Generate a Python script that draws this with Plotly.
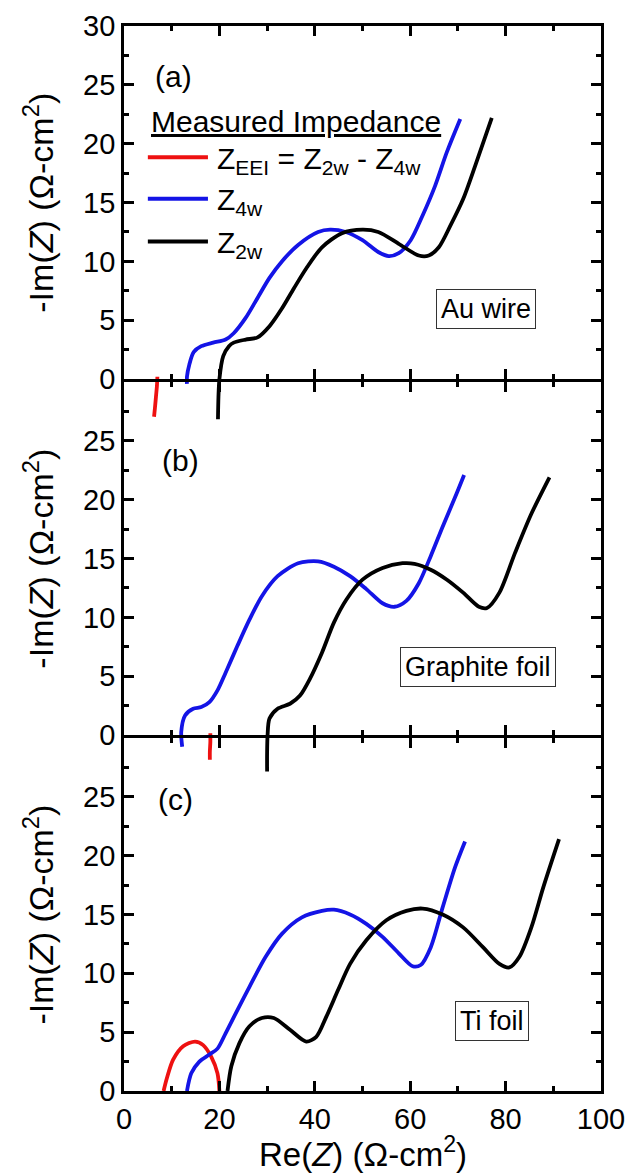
import plotly.graph_objects as go

# ---------------- data ----------------
# Panel (a) Au wire
a_eei_x = [7.0, 6.9, 6.7, 6.5, 6.3]
a_eei_y = [0.2, -0.6, -1.5, -2.4, -3.2]
a_4w_x = [13.2, 13.2, 13.7, 14.6, 16.2, 18.7, 21.3, 23.0, 25.5, 28.0, 30.5, 33.1, 36.5, 40.7,
          43.2, 46.5, 50.0, 53.3, 55.5, 57.6, 60.1, 62.6, 65.2, 67.7, 70.5]
a_4w_y = [-0.4, 0.2, 1.25, 2.3, 2.8, 3.1, 3.36, 3.9, 5.2, 6.9, 8.6, 10.0, 11.4, 12.5,
          12.7, 12.5, 11.8, 10.8, 10.45, 10.7, 11.8, 13.9, 16.4, 19.3, 22.1]
a_2w_x = [19.7, 19.8, 20.0, 20.8, 22.0, 23.0, 25.5, 28.0, 30.5, 33.1, 35.6, 38.2, 41.5, 45.7,
          50.0, 53.3, 57.6, 61.8, 63.9, 66.0, 68.5, 71.1, 73.6, 77.1]
a_2w_y = [-3.4, -1.5, 0.0, 1.95, 2.8, 3.1, 3.36, 3.55, 4.5, 6.0, 7.7, 9.4, 11.2, 12.4,
          12.7, 12.5, 11.5, 10.5, 10.5, 11.2, 13.1, 15.3, 18.1, 22.2]

# Panel (b) Graphite foil
b_eei_x = [18.1, 18.1, 18.0, 18.0]
b_eei_y = [0.15, -0.6, -1.4, -2.1]
b_4w_x = [12.2, 12.0, 12.8, 14.5, 16.2, 17.9, 19.6, 21.3, 23.8, 26.3, 28.9, 32.2, 36.5, 40.7,
          44.0, 47.4, 50.8, 54.2, 56.7, 59.2, 61.8, 64.3, 66.8, 69.4, 71.3]
b_4w_y = [-1.0, 0.27, 1.67, 2.24, 2.38, 2.8, 3.8, 5.3, 7.6, 9.8, 11.8, 13.5, 14.6, 14.75,
          14.3, 13.5, 12.4, 11.2, 10.9, 11.4, 12.9, 15.2, 17.7, 20.2, 22.1]
b_2w_x = [30.0, 30.0, 30.1, 30.5, 32.2, 34.8, 36.9, 39.0, 41.5, 44.0, 46.6, 50.0, 54.2, 58.4,
          60.9, 64.3, 67.7, 71.1, 74.4, 76.1, 78.7, 82.0, 85.4, 89.2]
b_2w_y = [-3.1, -1.5, 0.0, 1.4, 2.24, 2.66, 3.36, 4.8, 7.0, 9.55, 11.5, 13.2, 14.2, 14.6,
          14.55, 14.05, 13.2, 12.1, 10.9, 10.8, 12.1, 15.5, 18.8, 21.9]

# Panel (c) Ti foil
c_eei_x = [8.3, 9.0, 10.3, 12.4, 14.9, 16.6, 18.3, 19.6, 20.0]
c_eei_y = [0.0, 1.1, 2.66, 3.8, 4.2, 3.9, 2.9, 1.5, 0.0]
c_4w_x = [13.2, 14.1, 15.8, 17.9, 19.6, 21.3, 23.8, 26.3, 29.7, 33.1, 37.3, 41.5, 44.0, 47.4,
          50.8, 54.2, 57.6, 60.5, 62.2, 64.3, 66.8, 69.4, 71.5]
c_4w_y = [0.0, 1.5, 2.5, 3.1, 3.6, 4.9, 6.9, 8.85, 11.4, 13.35, 14.75, 15.3, 15.4, 15.0,
          14.2, 13.1, 11.7, 10.6, 10.7, 12.2, 15.6, 19.0, 21.2]
c_2w_x = [21.7, 22.5, 24.2, 26.3, 28.9, 31.4, 34.8, 38.2, 40.3, 42.4, 44.9, 47.4, 50.8, 55.0,
          59.2, 62.6, 66.8, 71.1, 75.3, 78.7, 80.8, 82.9, 85.4, 87.9, 91.2]
c_2w_y = [0.0, 2.1, 4.07, 5.5, 6.2, 6.2, 5.2, 4.2, 4.6, 6.3, 8.6, 10.8, 12.8, 14.5,
          15.3, 15.5, 15.0, 13.9, 12.2, 10.8, 10.5, 11.4, 13.9, 17.3, 21.4]

x_range = [0, 100]
x_major_step, x_minor_step = 20, 10
y_range = [0, 30]
y_major_step, y_minor_step = 5, 2.5

panel_tags = ["(a)", "(b)", "(c)"]
samples = ["Au wire", "Graphite foil", "Ti foil"]
legend_title = "Measured Impedance"
legend_labels = ["Z<sub>EEI</sub> = Z<sub>2w</sub> - Z<sub>4w</sub>",
                 "Z<sub>4w</sub>", "Z<sub>2w</sub>"]

RED = "#ee1111"
BLUE = "#1414e6"
BLACK = "#000000"
FONT = "Liberation Sans, Arial, sans-serif"

fig = go.Figure()

def add(x, y, color, xa, ya):
    fig.add_trace(go.Scatter(x=x, y=y, mode="lines", xaxis=xa, yaxis=ya,
                             line=dict(color=color, width=3.8, shape="spline", smoothing=0.8),
                             showlegend=False, hoverinfo="skip"))

# panel (a)/(b) traces use extended hidden axes so their tails run below 0
add(a_eei_x, a_eei_y, RED, "x", "y4")
add(a_4w_x, a_4w_y, BLUE, "x", "y4")
add(a_2w_x, a_2w_y, BLACK, "x", "y4")
add(b_eei_x, b_eei_y, RED, "x2", "y5")
add(b_4w_x, b_4w_y, BLUE, "x2", "y5")
add(b_2w_x, b_2w_y, BLACK, "x2", "y5")
add(c_eei_x, c_eei_y, RED, "x3", "y3")
add(c_4w_x, c_4w_y, BLUE, "x3", "y3")
add(c_2w_x, c_2w_y, BLACK, "x3", "y3")

H_PLOT = 1175 - 26 - 84
LW = 2.8
g = LW / H_PLOT
h = (1 - 2 * g) / 3
dom_c = [0, h]
dom_b = [h + g, 2 * h + g]
dom_a = [2 * h + 2 * g, 1]

tickfont = dict(family=FONT, size=29, color="black")
common = dict(showline=True, linewidth=LW, linecolor="black", tickcolor="black",
              tickwidth=LW, showgrid=False, zeroline=False, tickfont=tickfont,
              ticks="inside", ticklen=10, mirror="ticks")

def xax(anchor, labels):
    return dict(common, range=x_range, anchor=anchor, dtick=x_major_step,
                showticklabels=labels,
                minor=dict(dtick=x_minor_step, ticks="inside", ticklen=5,
                           tickwidth=LW, tickcolor="black"))

def yax(anchor, dom, alias):
    d = dict(common, range=y_range, domain=dom, anchor=anchor, dtick=y_major_step,
             minor=dict(dtick=y_minor_step, ticks="inside", ticklen=5,
                        tickwidth=LW, tickcolor="black"))
    if alias:
        d["labelalias"] = {"30": " "}
    return d

fig.update_layout(
    template="none",
    width=631, height=1175,
    margin=dict(l=124, r=30, t=26, b=84),
    paper_bgcolor="white", plot_bgcolor="rgba(0,0,0,0)",
    showlegend=False,
    xaxis=xax("y", False),
    xaxis2=xax("y2", False),
    xaxis3=xax("y3", True),
    yaxis=yax("x", dom_a, False),
    yaxis2=yax("x2", dom_b, True),
    yaxis3=yax("x3", dom_c, True),
    yaxis4=dict(range=[-4, 30], domain=[dom_a[0] - 4 / 30 * h, 1], anchor="x", visible=False),
    yaxis5=dict(range=[-4, 30], domain=[dom_b[0] - 4 / 30 * h, dom_b[1]], anchor="x2",
                visible=False),
)

ytitle = "-Im(<i>Z</i>) (Ω-cm<sup>2</sup>)"
for dom in [dom_a, dom_b, dom_c]:
    fig.add_annotation(text=ytitle, xref="paper", yref="paper", x=-0.18, y=(dom[0] + dom[1]) / 2,
                       textangle=-90, showarrow=False, xanchor="center", yanchor="middle",
                       font=dict(family=FONT, size=34, color="black"))

fig.add_annotation(text="Re(<i>Z</i>) (Ω-cm<sup>2</sup>)", xref="paper", yref="paper",
                   x=0.5, y=-0.0575, showarrow=False, xanchor="center", yanchor="middle",
                   font=dict(family=FONT, size=33, color="black"))

tag_pos = [(10.3, 25.7, "x", "y"), (11.9, 23.3, "x2", "y2"), (10.7, 24.8, "x3", "y3")]
for t, (tx, ty, xr, yr) in zip(panel_tags, tag_pos):
    fig.add_annotation(text=t, x=tx, y=ty, xref=xr, yref=yr, showarrow=False,
                       font=dict(family=FONT, size=30, color="black"))

box_pos = [(75.9, 6.0, "x", "y"), (74.3, 5.78, "x2", "y2"), (77.1, 5.95, "x3", "y3")]
for s, (bx, by, xr, yr) in zip(samples, box_pos):
    fig.add_annotation(text=s, x=bx, y=by, xref=xr, yref=yr, showarrow=False,
                       font=dict(family=FONT, size=27, color="black"),
                       bordercolor="#333333", borderwidth=1, borderpad=4, bgcolor="white")

fig.add_annotation(text=legend_title, x=5.2, y=21.9, xref="x", yref="y", showarrow=False,
                   xanchor="left", yanchor="middle",
                   font=dict(family=FONT, size=30, color="black", lineposition="under"))
leg_y = [18.86, 15.32, 11.69]
for lab, col, ly in zip(legend_labels, [RED, BLUE, BLACK], leg_y):
    fig.add_shape(type="line", x0=5.0, x1=17.6, y0=ly, y1=ly, xref="x", yref="y",
                  line=dict(color=col, width=4))
    fig.add_annotation(text=lab, x=19.1, y=ly, xref="x", yref="y", showarrow=False,
                       xanchor="left", yanchor="middle", yshift=-3,
                       font=dict(family=FONT, size=30, color="black"))

fig.write_html("out.html")
